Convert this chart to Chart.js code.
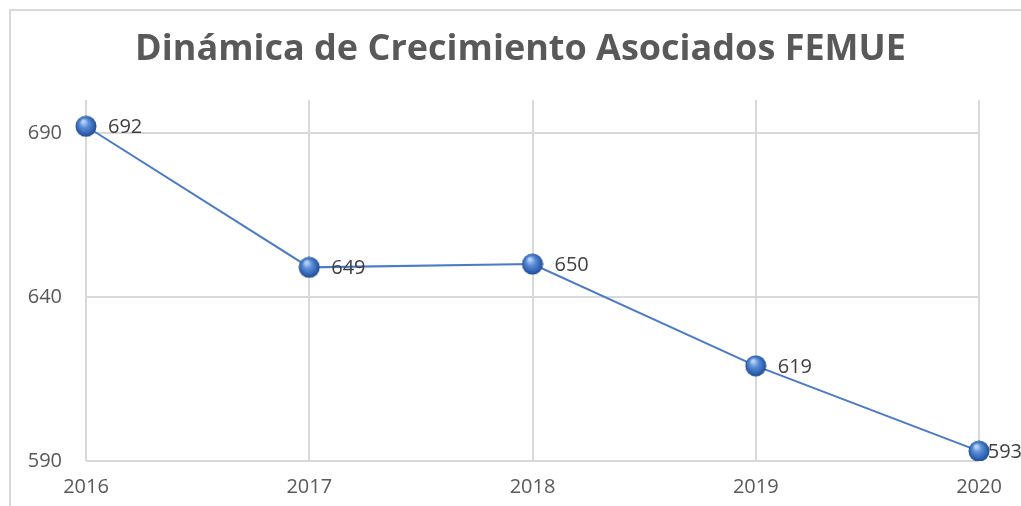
<!DOCTYPE html>
<html>
<head>
<meta charset="utf-8">
<script src="https://cdn.jsdelivr.net/npm/chart.js@4"></script>
<style>
  html, body { margin: 0; padding: 0; background: #fff; overflow: hidden; }
  #wrap { width: 1021px; height: 506px; }
</style>
</head>
<body>
<div id="wrap"><canvas id="chart" width="1021" height="506"></canvas></div>
<script>
// Data
const years = ["2016", "2017", "2018", "2019", "2020"];
const asociados = [692, 649, 650, 619, 593];
const yTicks = [590, 640, 690];
const chartTitle = "Dinámica de Crecimiento Asociados FEMUE";

// Shiny blue ball used as point marker
const makeBall = (size) => {
  const c = document.createElement("canvas");
  c.width = size;
  c.height = size;
  const g = c.getContext("2d");
  const r = size / 2;
  const grad = g.createRadialGradient(r * 0.75, r * 0.55, r * 0.1, r, r, r);
  grad.addColorStop(0, "#b9d3f5");
  grad.addColorStop(0.35, "#5c8fd8");
  grad.addColorStop(0.8, "#2d5fae");
  grad.addColorStop(1, "#1d4688");
  g.fillStyle = grad;
  g.beginPath();
  g.arc(r, r, r - 0.5, 0, Math.PI * 2);
  g.fill();
  return c;
};
const ball = makeBall(22);

// Outer light border of the original chart box (cut at right and bottom)
// plus the title, which sits a bit right of the canvas centre
const frame = {
  id: "frame",
  beforeDraw(chart) {
    const ctx = chart.ctx;
    ctx.save();
    ctx.strokeStyle = "#d9d9d9";
    ctx.lineWidth = 2;
    ctx.strokeRect(10, 10, 2000, 2000);
    ctx.font = "bold 36px 'Open Sans'";
    ctx.fillStyle = "#595959";
    ctx.textAlign = "center";
    ctx.textBaseline = "middle";
    ctx.fillText(chartTitle, chart.width / 2 + 10, 50);
    ctx.restore();
  },
};

// Value labels to the right of each point
const valueLabels = {
  id: "valueLabels",
  afterDatasetsDraw(chart) {
    const ctx = chart.ctx;
    const meta = chart.getDatasetMeta(0);
    ctx.save();
    ctx.font = "20px 'Open Sans'";
    ctx.fillStyle = "#404040";
    ctx.textBaseline = "middle";
    meta.data.forEach((pt, i) => {
      const txt = String(chart.data.datasets[0].data[i]);
      const w = ctx.measureText(txt).width;
      let x = pt.x + 22;
      if (x + w > chart.width) x = chart.width - w + 1;
      ctx.fillText(txt, x, pt.y + 1);
    });
    ctx.restore();
  },
};

new Chart(document.getElementById("chart"), {
  type: "line",
  plugins: [frame, valueLabels],
  data: {
    labels: years,
    datasets: [
      {
        data: asociados,
        borderColor: "#4a7ac8",
        borderWidth: 2,
        tension: 0,
        pointStyle: ball,
        pointRadius: 11,
        pointHoverRadius: 11,
      },
    ],
  },
  options: {
    responsive: false,
    animation: false,
    layout: { padding: { top: 100, right: 42, bottom: 0, left: 0 } },
    plugins: {
      legend: { display: false },
      tooltip: { enabled: false },
      title: { display: false },
    },
    scales: {
      x: {
        offset: false,
        grid: { color: "#d9d9d9", lineWidth: 2, drawTicks: false },
        border: { display: false },
        ticks: {
          color: "#595959",
          font: { family: "'Open Sans'", size: 20 },
          padding: 14,
          maxRotation: 0,
        },
        afterFit: (s) => { s.height = 45; },
      },
      y: {
        min: 590,
        max: 700,
        afterBuildTicks: (s) => { s.ticks = yTicks.map((v) => ({ value: v })); },
        grid: { color: "#d9d9d9", lineWidth: 2, drawTicks: false },
        border: { display: false },
        ticks: {
          color: "#595959",
          font: { family: "'Open Sans'", size: 20 },
          padding: 24,
        },
        afterFit: (s) => { s.width = 86; },
      },
    },
  },
});
</script>
</body>
</html>
